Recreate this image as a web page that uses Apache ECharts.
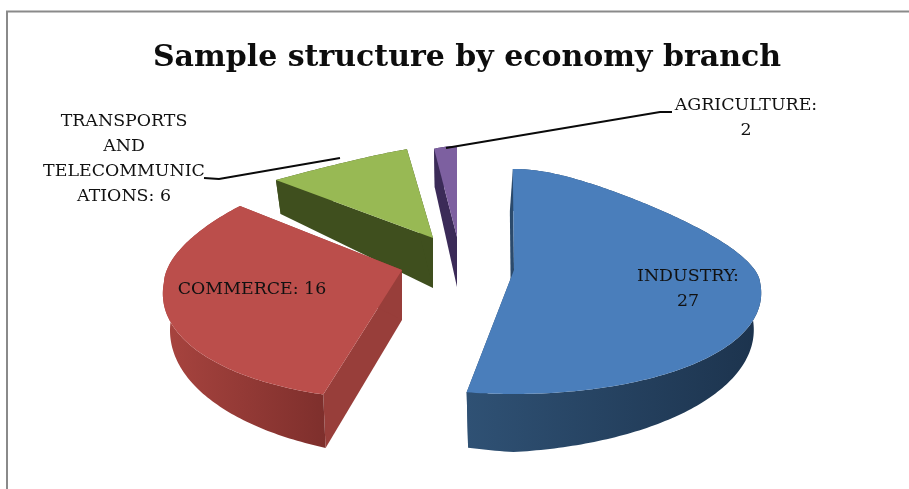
<!DOCTYPE html>
<html>
<head>
<meta charset="utf-8">
<style>html,body{margin:0;padding:0;background:#fff}#chart{width:909px;height:489px}</style>
<script src="https://cdn.jsdelivr.net/npm/echarts@6/dist/echarts.min.js"></script>
</head>
<body>
<div id="chart"></div>
<script>
// Sample counts per economy branch
const branches = ['INDUSTRY', 'COMMERCE', 'TRANSPORTS AND TELECOMMUNICATIONS', 'AGRICULTURE'];
const companies = [27, 16, 6, 2];
const labelLines = [
  ['INDUSTRY:', '27'],
  ['COMMERCE: 16'],
  ['TRANSPORTS', 'AND', 'TELECOMMUNIC', 'ATIONS: 6'],
  ['AGRICULTURE:', '2']
];

// Each exploded wedge: apex on screen, rim radii, rim centre shift, narrowing
// toward the far side, slight turn in degrees, side-face lean, stacking order
const wedges = [
  {ax: 514, ay: 270, rx: 246, ryTop: 101, ryBottom: 124, shift: 12, egg: 0.45, turn: -0.5, lean: -3, z: 40},
  {ax: 402, ay: 270, rx: 238, ryTop: 105, ryBottom: 130, shift: 12, egg: 0.2, turn: 7, lean: 0, z: 30},
  {ax: 433, ay: 238, rx: 250, ryTop: 91, ryBottom: 100, shift: -17, egg: 0.6, turn: 0, lean: 0, z: 20},
  {ax: 457, ay: 237, rx: 220, ryTop: 91, ryBottom: 100, shift: 0, egg: 0.6, turn: 0, lean: 0, z: 10}
];
const topColors = ['#4a7ebb', '#bb4e4b', '#98b954', '#7d60a0'];
const sideColors = ['#2b4a6c', '#983e3a', '#3f4f1e', '#3b2b58'];
const wallStops = [
  ['#2f5174', '#1c334d'],
  ['#a8443f', '#7e2f2c'],
  ['#3f4f1e', '#3f4f1e'],
  ['#3b2b58', '#3b2b58']
];
const labelAnchors = [[688, 288.5], [252, 289], [124, 159], [746, 118]];
const leaders = [
  null,
  null,
  [[204, 178], [219, 179], [340, 158]],
  [[672, 112], [660, 112], [446, 148]]
];
const serif = '"DejaVu Serif", serif';
const total = companies.reduce((a, b) => a + b, 0);

// Egg-shaped foreshortening: the far side of the pie narrows toward the top
function project(w, deg) {
  const t = deg * Math.PI / 180;
  const x = Math.sin(t), y = -Math.cos(t);
  const s = y < 0 ? 1 - w.egg * Math.pow(-y, 1.5) : 1 + 0.1 * y;
  const r = y < 0 ? w.ryTop + w.shift : w.ryBottom - w.shift;
  return {x, y, px: w.ax + w.rx * x * s, py: w.ay + w.shift + r * y};
}
// Extruded copy of a rim point, deeper toward the viewer
function drop(w, p, lean) {
  const d = 50 + 8 * p.y - 14 * Math.abs(p.x);
  return [w.ax + (p.px - w.ax) * 0.97 + (lean || 0), p.py + d];
}

function renderWedge(params, api) {
  const i = params.dataIndex;
  const w = wedges[i];
  let before = 0;
  for (let k = 0; k < i; k++) before += companies[k];
  const start = before / total * 360 + w.turn;
  const sweep = api.value(0) / total * 360;
  const rim = [];
  const steps = Math.max(4, Math.ceil(sweep));
  for (let k = 0; k <= steps; k++) rim.push(project(w, start + sweep * k / steps));
  const apex = [w.ax, w.ay];
  const apexLow = [w.ax, w.ay + 50];
  const first = rim[0], last = rim[rim.length - 1];
  const poly = (points, fill, z2) => ({type: 'polygon', z2, shape: {points}, style: {fill}});
  const children = [];

  children.push(poly([[first.px, first.py], apex, [apexLow[0] + w.lean, apexLow[1]], drop(w, first, w.lean)], sideColors[i], w.z));
  children.push(poly([[last.px, last.py], apex, apexLow, drop(w, last)], sideColors[i], w.z + 1));
  children.push(poly(
    rim.map(p => [p.px, p.py]).concat(rim.slice().reverse().map(p => drop(w, p))),
    new echarts.graphic.LinearGradient(0, 0, 1, 0, [
      {offset: 0, color: wallStops[i][0]},
      {offset: 1, color: wallStops[i][1]}
    ]),
    w.z + 2
  ));
  children.push(poly([apex].concat(rim.map(p => [p.px, p.py])), topColors[i], w.z + 3));

  if (leaders[i]) {
    children.push({
      type: 'polyline', z2: 60,
      shape: {points: leaders[i]},
      style: {stroke: '#0a0a0a', lineWidth: 2, fill: null}
    });
  }
  children.push({
    type: 'text', z2: 70,
    x: labelAnchors[i][0], y: labelAnchors[i][1],
    style: {
      text: labelLines[i].join('\n'),
      fill: '#111',
      font: '17.4px ' + serif,
      lineHeight: 25,
      align: 'center',
      verticalAlign: 'middle'
    }
  });
  return {type: 'group', children};
}

const chart = echarts.init(document.getElementById('chart'), null, {renderer: 'canvas'});
chart.setOption({
  animation: false,
  backgroundColor: '#ffffff',
  title: {
    text: 'Sample structure by economy branch',
    left: 462,
    top: 38,
    textAlign: 'center',
    textStyle: {fontFamily: serif, fontWeight: 'bold', fontSize: 30, color: '#0d0d0d'}
  },
  graphic: [{
    type: 'rect', z: -1, silent: true,
    shape: {x: 7, y: 11.5, width: 960, height: 540},
    style: {fill: '#fff', stroke: '#8a8a8a', lineWidth: 2}
  }],
  series: [{
    type: 'custom',
    coordinateSystem: 'none',
    renderItem: renderWedge,
    data: companies.map((v, i) => ({name: branches[i], value: [v]}))
  }]
});
</script>
</body>
</html>
